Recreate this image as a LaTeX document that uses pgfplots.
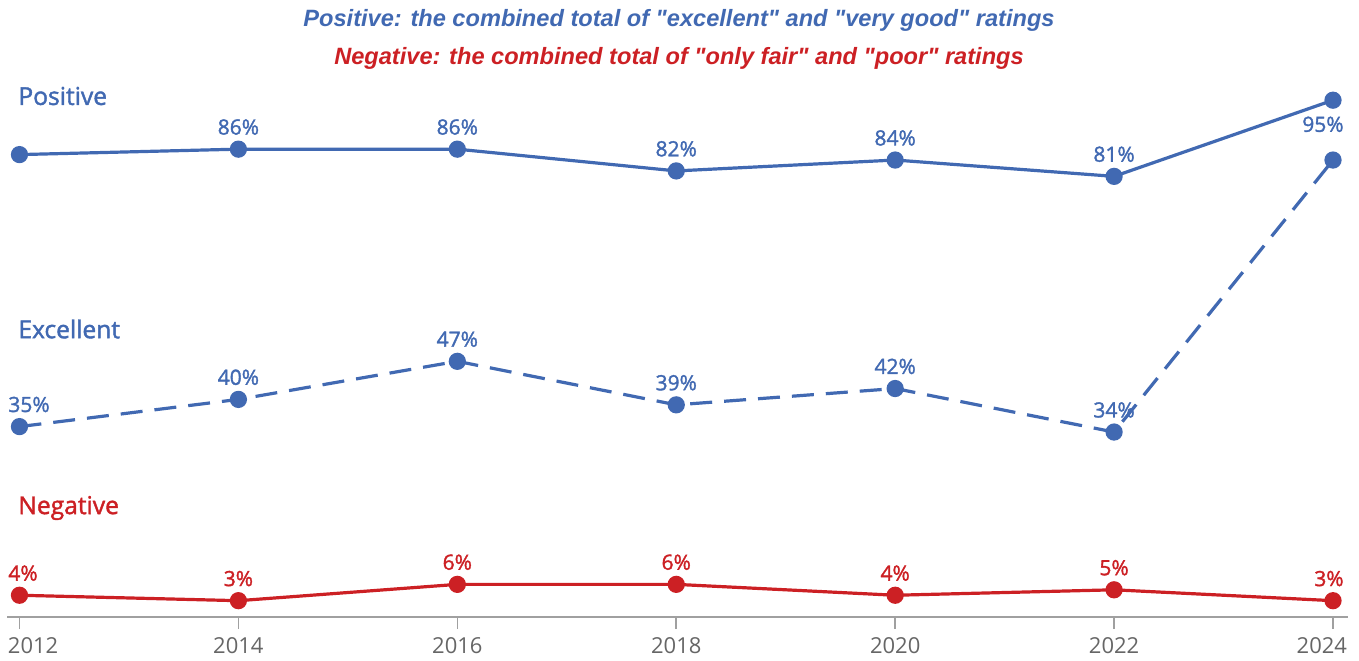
\documentclass[border=0pt]{standalone}
\usepackage{pgfplots}
\pgfplotsset{compat=1.18}
\usepackage{fontspec}
\setmainfont{Open Sans}
\newfontfamily\sbfont{Open Sans}[FakeBold=1.6]
\newfontfamily\titlefont{Liberation Sans}
\definecolor{pblue}{RGB}{65,105,178}
\definecolor{nred}{RGB}{204,32,36}
\definecolor{tickgray}{RGB}{102,102,102}
\definecolor{axgray}{RGB}{160,160,160}
\begin{document}
\begin{tikzpicture}
\path (0,0) rectangle (679.5pt,330pt);
\begin{axis}[
  at={(3.5pt,21.5pt)}, anchor=south west,
  scale only axis, width=670.5pt, height=272pt,
  xmin=2011.886, xmax=2024.137, ymin=0, ymax=100,
  axis y line=none,
  axis x line*=bottom,
  x axis line style={-, draw=axgray, line width=1pt},
  xtick={2012,2014,2016,2018,2020,2022,2024},
  xticklabels={{\makebox[0pt][l]{\hspace{-5.75pt}2012}},2014,2016,2018,2020,2022,{\makebox[0pt][r]{2024\hspace{-7pt}}}},
  xtick align=outside,
  major tick length=6pt,
  tick style={draw=axgray, line width=0.8pt},
  xticklabel style={font=\fontsize{11}{13}\selectfont, text=tickgray, anchor=north, yshift=-0.5pt},
  clip=false,
  every node near coord/.append style={font=\sbfont\fontsize{10.5}{12}\selectfont, inner sep=0pt},
]
% Positive
\addplot[pblue, line width=1.6pt, mark=*, mark size=3.5pt, mark options={solid}]
  coordinates {(2012,85) (2014,86) (2016,86) (2018,82) (2020,84) (2022,81) (2024,95)};
\addplot[draw=none, mark=none, point meta=explicit symbolic, nodes near coords,
  nodes near coords style={text=pblue, anchor=south, yshift=7pt}]
  coordinates {(2014,86) [86\%] (2016,86) [86\%] (2018,82) [82\%] (2020,84) [84\%] (2022,81) [81\%]};
\addplot[draw=none, mark=none, point meta=explicit symbolic, nodes near coords,
  nodes near coords style={text=pblue, anchor=north east, xshift=5.5pt, yshift=-8pt}]
  coordinates {(2024,95) [95\%]};
% Excellent
\addplot[pblue, line width=1.6pt, dash pattern=on 11pt off 6pt, mark=*, mark size=3.5pt, mark options={solid}]
  coordinates {(2012,35) (2014,40) (2016,47) (2018,39) (2020,42) (2022,34) (2024,84)};
\addplot[draw=none, mark=none, point meta=explicit symbolic, nodes near coords,
  nodes near coords style={text=pblue, anchor=south, yshift=7pt}]
  coordinates {(2014,40) [40\%] (2016,47) [47\%] (2018,39) [39\%] (2020,42) [42\%] (2022,34) [34\%]};
\addplot[draw=none, mark=none, point meta=explicit symbolic, nodes near coords,
  nodes near coords style={text=pblue, anchor=south west, xshift=-5.75pt, yshift=7pt}]
  coordinates {(2012,35) [35\%]};
% Negative
\addplot[nred, line width=1.6pt, mark=*, mark size=3.5pt, mark options={solid}]
  coordinates {(2012,4) (2014,3) (2016,6) (2018,6) (2020,4) (2022,5) (2024,3)};
\addplot[draw=none, mark=none, point meta=explicit symbolic, nodes near coords,
  nodes near coords style={text=nred, anchor=south, yshift=7pt}]
  coordinates {(2014,3) [3\%] (2016,6) [6\%] (2018,6) [6\%] (2020,4) [4\%] (2022,5) [5\%]};
\addplot[draw=none, mark=none, point meta=explicit symbolic, nodes near coords,
  nodes near coords style={text=nred, anchor=south west, xshift=-5.75pt, yshift=7pt}]
  coordinates {(2012,4) [4\%]};
\addplot[draw=none, mark=none, point meta=explicit symbolic, nodes near coords,
  nodes near coords style={text=nred, anchor=south east, xshift=5.5pt, yshift=7pt}]
  coordinates {(2024,3) [3\%]};
\end{axis}
% titles
\node[text=pblue, font=\titlefont\bfseries\itshape\fontsize{11.8}{13}\selectfont] at (339.5pt,320pt) {Positive: the combined total of "excellent" and "very good" ratings};
\node[text=nred, font=\titlefont\bfseries\itshape\fontsize{11.8}{13}\selectfont] at (339.5pt,301pt) {Negative: the combined total of "only fair" and "poor" ratings};
% series labels
\node[text=pblue, anchor=west, inner sep=0pt, font=\sbfont\fontsize{12.3}{14}\selectfont] at (9pt,282pt) {Positive};
\node[text=pblue, anchor=west, inner sep=0pt, font=\sbfont\fontsize{12.3}{14}\selectfont] at (9pt,165.5pt) {Excellent};
\node[text=nred, anchor=west, inner sep=0pt, font=\sbfont\fontsize{12.3}{14}\selectfont] at (9pt,76pt) {Negative};
\end{tikzpicture}
\end{document}
